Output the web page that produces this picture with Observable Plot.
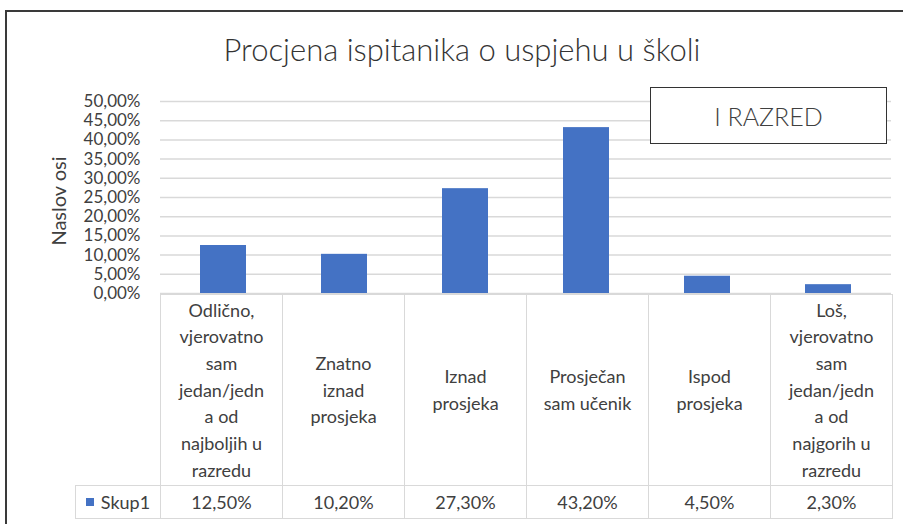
<!DOCTYPE html>
<html>
<head>
<meta charset="utf-8">
<script src="https://cdn.jsdelivr.net/npm/d3@7"></script>
<script src="https://cdn.jsdelivr.net/npm/@observablehq/plot@0.6"></script>
<style>
  html, body { margin: 0; padding: 0; background: #fff; }
  #chart { position: relative; width: 903px; height: 524px; overflow: hidden; font-family: Lato, "Open Sans", sans-serif; color: #404040; }
  .frame { position: absolute; left: 5px; top: 10px; width: 1000px; height: 1000px; border: 2px solid #3a3a3a; box-sizing: border-box; }
  .title { position: absolute; left: 0; top: 30px; width: 924px; text-align: center; font-size: 31px; font-weight: 300; color: #333; }
  .ylabel { position: absolute; left: 58px; top: 201px; transform: translate(-50%, -50%) rotate(-90deg); font-size: 20px; white-space: nowrap; color: #404040; }
  .badge { position: absolute; left: 650px; top: 87px; width: 237px; height: 57px; border: 1.5px solid #333; box-sizing: border-box; background: #fff; display: flex; align-items: center; justify-content: center; font-size: 25px; font-weight: 300; color: #404040; }
  #plot { position: absolute; left: 0; top: 0; }
  table { position: absolute; left: 75px; top: 294px; border-collapse: collapse; table-layout: fixed; width: 817px; font-size: 18px; color: #404040; background: transparent; }
  td { border: 1.5px solid #d9d9d9; padding: 0; text-align: center; vertical-align: middle; line-height: 26.7px; white-space: pre; background: #fff; }
  td.blank { border: none; border-right: 1.5px solid #d9d9d9; background: transparent; }
  tr.labels td { height: 190px; }
  tr.vals td { height: 32px; }
  .key { display: inline-block; width: 8px; height: 8px; background: #4472c4; margin-right: 7px; vertical-align: middle; position: relative; top: -2px; }
</style>
</head>
<body>
<div id="chart">
  <div class="frame"></div>
  <div id="plot"></div>
  <div class="title" id="title"></div>
  <div class="ylabel" id="ylabel"></div>
  <div class="badge" id="badge"></div>
  <table id="tbl"></table>
</div>
<script>
const titleText = "Procjena ispitanika o uspjehu u školi";
const yAxisTitle = "Naslov osi";
const badgeText = "I RAZRED";
const seriesName = "Skup1";
const categories = [
  "Odlično,\nvjerovatno\nsam\njedan/jedn\na od\nnajboljih u\nrazredu",
  "Znatno\niznad\nprosjeka",
  "Iznad\nprosjeka",
  "Prosječan\nsam učenik",
  "Ispod\nprosjeka",
  "Loš,\nvjerovatno\nsam\njedan/jedn\na od\nnajgorih u\nrazredu"
];
const values = [0.125, 0.102, 0.273, 0.432, 0.045, 0.023];
const yTicks = [0, 0.05, 0.10, 0.15, 0.20, 0.25, 0.30, 0.35, 0.40, 0.45, 0.50];

const fmt = v => d3.format(".2%")(v).replace(".", ",");
const data = categories.map((c, i) => ({category: c, value: values[i]}));

document.getElementById("title").textContent = titleText;
document.getElementById("ylabel").textContent = yAxisTitle;
document.getElementById("badge").textContent = badgeText;

const plot = Plot.plot({
  width: 903,
  height: 312,
  marginTop: 101,
  marginBottom: 19,
  marginLeft: 160,
  marginRight: 12,
  style: {fontFamily: "Lato, 'Open Sans', sans-serif", fontSize: "17px", color: "#404040", background: "transparent"},
  x: {domain: categories, paddingInner: 0.62, paddingOuter: 0.31, axis: null},
  y: {domain: [0, 0.5], ticks: yTicks, tickFormat: fmt, tickSize: 0, tickPadding: 20, label: null},
  marks: [
    Plot.ruleY(yTicks, {stroke: "#d9d9d9", strokeWidth: 1.5}),
    Plot.barY(data, {x: "category", y: "value", fill: "#4472c4"})
  ]
});
document.getElementById("plot").appendChild(plot);

const tbl = document.getElementById("tbl");
const cols = document.createElement("colgroup");
[85, ...categories.map(() => 122)].forEach(w => {
  const c = document.createElement("col"); c.style.width = w + "px"; cols.appendChild(c);
});
tbl.appendChild(cols);
const r1 = document.createElement("tr"); r1.className = "labels";
const b = document.createElement("td"); b.className = "blank"; r1.appendChild(b);
categories.forEach(c => { const td = document.createElement("td"); td.textContent = c; r1.appendChild(td); });
tbl.appendChild(r1);
const r2 = document.createElement("tr"); r2.className = "vals";
const lg = document.createElement("td");
lg.innerHTML = '<span class="key"></span>';
lg.appendChild(document.createTextNode(seriesName));
r2.appendChild(lg);
values.forEach(v => { const td = document.createElement("td"); td.textContent = fmt(v); r2.appendChild(td); });
tbl.appendChild(r2);
</script>
</body>
</html>
